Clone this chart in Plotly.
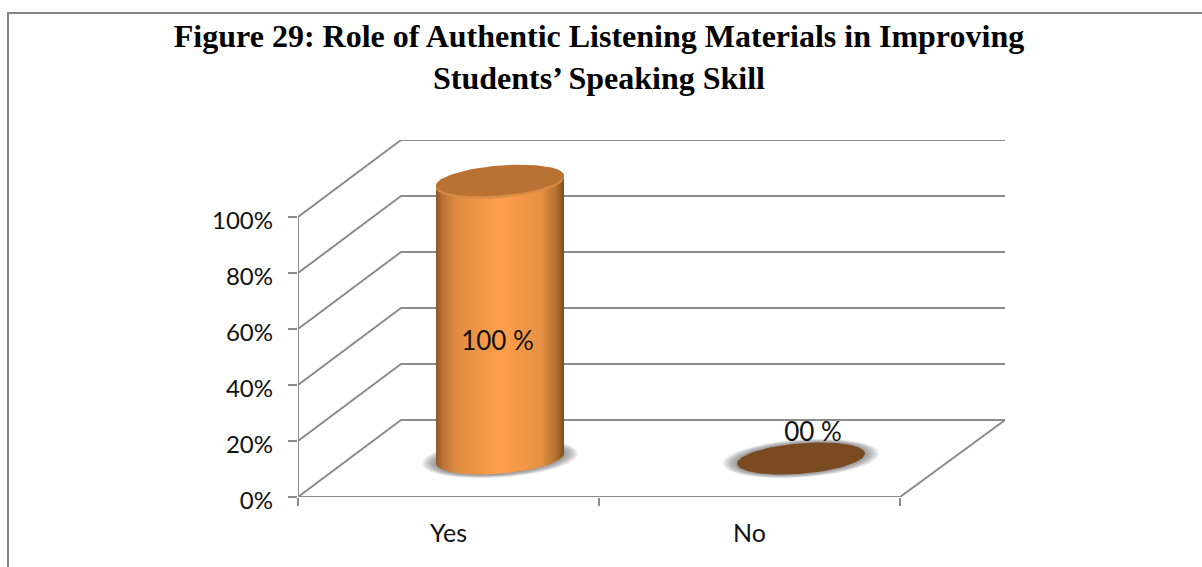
import numpy as np
import plotly.graph_objects as go

categories = ["Yes", "No"]
values = [100, 0]
value_labels = ["100 %", "00 %"]
y_ticks = [0, 20, 40, 60, 80, 100]
y_tick_labels = ["0%", "20%", "40%", "60%", "80%", "100%"]
title_text = "<b>Figure 29: Role of Authentic Listening Materials in Improving<br>Students’ Speaking Skill</b>"

# pixel scale of the front plane
PX_CAT = 301.0
PX_PCT = 2.8
L, R, T, B = 298, 1005, 140, 497
PLOT_B = 507               # plot area reaches a bit below the floor so the shifted 0% label survives
PLOT_H = PLOT_B - T
DX, DY = 103 / PX_CAT, 77 / PX_PCT
DX_RIGHT = 105 / PX_CAT
GRID = "#8c8c8c"
TEXT = "#111111"
LABEL_SHIFT_PX = 3.5
LABEL_OFFSETS_PX = [(-2.5, 3), (12, -3)]

fig = go.Figure()


def line(x, y, w=2, color=GRID):
    fig.add_trace(go.Scatter(x=x, y=y, mode="lines", line=dict(color=color, width=w),
                             hoverinfo="skip", showlegend=False, cliponaxis=False))


# walls
for v in y_ticks:
    line([0, DX, 2 + DX_RIGHT], [v, v + DY, v + DY])
line([0, 0], [0, 100])
line([0, 2, 2 + DX_RIGHT], [0, 0, DY])

t = np.linspace(0, 2 * np.pi, 121)


def ellipse(cx, cy, a=64, b=15.2, shear=5):
    xs = cx + a * np.cos(t) / PX_CAT
    ys = cy + (shear * np.cos(t) + b * np.sin(t)) / PX_PCT
    return xs, ys


def fill(xs, ys, color=None, gradient=None):
    fig.add_trace(go.Scatter(x=xs, y=ys, mode="lines", fill="toself", line=dict(width=0),
                             fillcolor=color, fillgradient=gradient,
                             hoverinfo="skip", showlegend=False, cliponaxis=False))


body_scale = [[0, "#8e5723"], [0.05, "#b87234"], [0.15, "#dd8b40"], [0.5, "#ffa04b"],
              [0.82, "#e89144"], [0.94, "#b0702f"], [1, "#7f4f20"]]
TOP_INSET = 0.99  # cap sits slightly below the full height

for i, (cat, val, lab) in enumerate(zip(categories, values, value_labels)):
    cx = i + 0.5 + DX / 2
    cy = DY / 2
    # soft shadow
    for k in range(9):
        f = 1.22 - k * 0.03
        xs, ys = ellipse(cx, cy, 64 * f, 15.2 * f + 0.5, 5)
        fill(xs, ys, color="rgba(90,90,90,0.10)")
    top = cy + val * TOP_INSET
    if val > 0:
        xb, yb = ellipse(cx, cy)
        xt, yt = ellipse(cx, top)
        front = t >= np.pi
        back = t <= np.pi
        xs = np.concatenate([xb[front], xt[back]])
        ys = np.concatenate([yb[front], yt[back]])
        fill(xs, ys, gradient=dict(type="horizontal", colorscale=body_scale))
        # thin lighter rim and the cap
        xr, yr = ellipse(cx, top - 0.5, 64, 15.2, 5)
        fill(xr, yr, color="#d98c45")
        xc, yc = ellipse(cx, top + 0.3, 64, 15.0, 5)
        fill(xc, yc, color="#b97233")
    else:
        xs, ys = ellipse(cx, cy)
        fill(xs, ys, color="#7a4a21")

# value labels
fig.add_trace(go.Scatter(
    x=[i + 0.5 + DX / 2 + off[0] / PX_CAT for i, off in enumerate(LABEL_OFFSETS_PX)],
    y=[(v * 0.5 + DY / 2 - 10 if v > 0 else v + DY / 2 + 9.5) + off[1] / PX_PCT
       for v, off in zip(values, LABEL_OFFSETS_PX)],
    mode="text", text=value_labels, textposition="middle center",
    textfont=dict(family="Lato", size=26, color=TEXT),
    hoverinfo="skip", showlegend=False, cliponaxis=False))

# invisible carrier for the axis that holds the y tick labels
fig.add_trace(go.Scatter(x=[0], y=[0], yaxis="y2", mode="markers", marker=dict(opacity=0),
                         hoverinfo="skip", showlegend=False))


def px_x(p):
    return (p - L) / (R - L)


def px_y(p):
    return (PLOT_B - p) / PLOT_H


# outer frame: left and top edges only
FRAME = dict(color="#868686", width=2)
fig.add_shape(type="line", xref="paper", yref="paper", x0=px_x(8), x1=px_x(8), y0=px_y(567), y1=px_y(13), line=FRAME)
fig.add_shape(type="line", xref="paper", yref="paper", x0=px_x(7), x1=px_x(1202), y0=px_y(13), y1=px_y(13), line=FRAME)

y2_low = -(PLOT_B - B - LABEL_SHIFT_PX) / PX_PCT

fig.update_layout(
    width=1202, height=567, autosize=False,
    margin=dict(l=L, r=1202 - R, t=T, b=567 - PLOT_B),
    paper_bgcolor="white", plot_bgcolor="rgba(0,0,0,0)", showlegend=False,
    title=dict(text=title_text, x=599 / 1202, xanchor="center", xref="container",
               y=1 - 47 / 567, yanchor="top",
               font=dict(family="Liberation Serif", size=32, color="black")),
    xaxis=dict(range=[0, (R - L) / PX_CAT], tickmode="array", tickvals=[0.5, 1.5], ticktext=categories,
               showgrid=False, zeroline=False, showline=False, ticks="",
               ticklabelstandoff=19, tickfont=dict(family="Lato", size=25, color=TEXT),
               minor=dict(tickvals=[0, 1, 2], ticks="outside", ticklen=8, tickwidth=2,
                          tickcolor=GRID, showgrid=False)),
    yaxis=dict(domain=[(PLOT_B - B) / PLOT_H, 1], range=[0, (B - T) / PX_PCT], tickmode="array", tickvals=y_ticks,
               showticklabels=False,
               showgrid=False, zeroline=False, showline=False, ticks="outside", ticklen=9,
               tickwidth=2, tickcolor=GRID),
    yaxis2=dict(domain=[0, 1], range=[y2_low, y2_low + PLOT_H / PX_PCT], side="left",
                anchor="x", tickmode="array", tickvals=y_ticks, ticktext=y_tick_labels,
                showgrid=False, zeroline=False, showline=False, ticks="", ticklabelstandoff=24,
                tickfont=dict(family="Lato", size=24, color=TEXT)),
)
fig.write_html("out.html", config=dict(displayModeBar=False),
               post_script="document.body.style.margin='0';document.body.style.overflow='hidden';")
